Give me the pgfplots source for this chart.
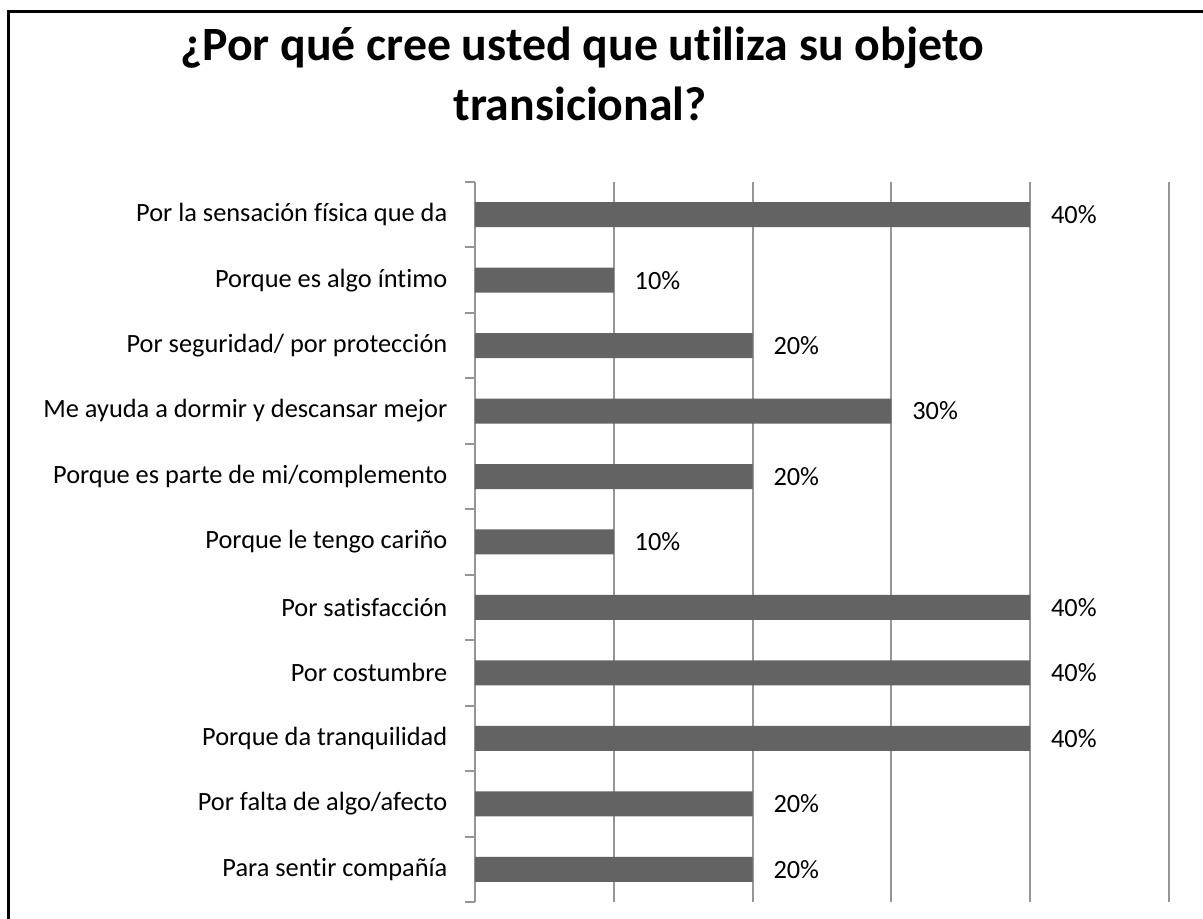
\documentclass[border=0pt]{standalone}
\usepackage{fontspec}
\setmainfont{Carlito}[Ligatures=CommonOff]
\usepackage{pgfplots}
\pgfplotsset{compat=1.18}

\definecolor{barc}{RGB}{99,99,99}
\definecolor{gridc}{RGB}{150,150,150}

\begin{document}
\begin{tikzpicture}
\path[use as bounding box] (0,0) rectangle (12.03,-9.19);
\clip (0,0) rectangle (12.03,-9.19);
\draw[line width=0.3mm] (0.085,-0.12) rectangle (12.3,-9.6);
% title, two lines
\node[font=\bfseries\fontsize{13.6}{16}\selectfont, anchor=base, inner sep=0pt] at (5.82,-0.61)
  {¿Por qué cree usted que utiliza su objeto};
\node[font=\bfseries\fontsize{13.6}{16}\selectfont, anchor=base, inner sep=0pt] at (5.80,-1.21)
  {transicional?};
\begin{axis}[
  at={(4.75cm,-9.02cm)}, anchor=south west,
  scale only axis,
  width=6.94cm, height=7.20cm,
  xbar, bar width=2.5mm,
  xmin=0, xmax=50,
  ymin=-0.5, ymax=10.5,
  axis y line*=left,
  axis x line*=bottom,
  x axis line style={draw=none},
  y axis line style={draw=gridc, line width=0.2mm},
  xtick={0,10,20,30,40,50},
  xticklabels={},
  xmajorgrids,
  major grid style={draw=gridc, line width=0.2mm},
  major x tick style={draw=none},
  ytick={0,...,10},
  yticklabels={Para sentir compañía, Por falta de algo/afecto, Porque da tranquilidad, Por costumbre, Por satisfacción, Porque le tengo cariño, Porque es parte de mi/complemento, Me ayuda a dormir y descansar mejor\ , Por seguridad/ por protección, Porque es algo íntimo, Por la sensación física que da},
  major y tick style={draw=none},
  minor ytick={-0.5,0.5,...,10.5},
  minor y tick style={draw=gridc, line width=0.2mm},
  minor tick length=1mm,
  tick align=outside,
  yticklabel style={font=\fontsize{7.5}{9}\selectfont, inner sep=0pt, xshift=-1.2mm},
  /pgf/number format/assume math mode=true,
  nodes near coords={\pgfmathprintnumber{\pgfplotspointmeta}\%},
  point meta=x,
  nodes near coords style={font=\fontsize{7.5}{9}\selectfont, anchor=west, xshift=0.85mm, black},
  clip=false,
]
\addplot[fill=barc, draw=none] coordinates {
  (20,0) (20,1) (40,2) (40,3) (40,4) (10,5) (20,6) (30,7) (20,8) (10,9) (40,10)};
\end{axis}
\end{tikzpicture}
\end{document}
